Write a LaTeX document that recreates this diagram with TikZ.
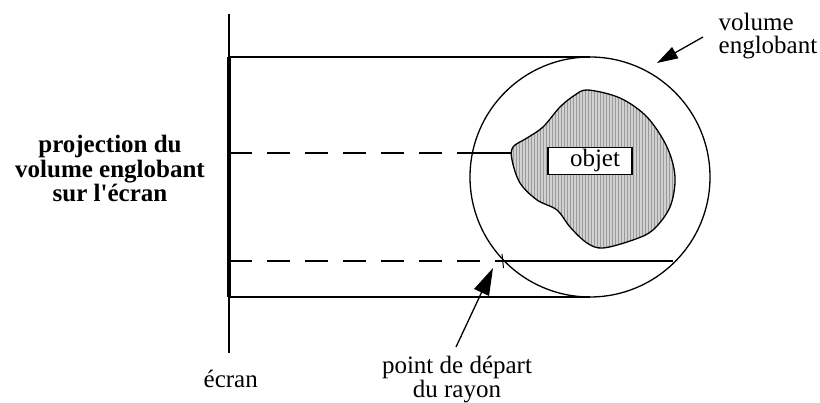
\documentclass[tikz,border=0pt]{standalone}
\usepackage{fontspec}
\setmainfont{Liberation Serif}
\usetikzlibrary{arrows.meta,patterns}
\begin{document}
\begin{tikzpicture}[x=1pt,y=-1pt,line width=1.3pt,
  lab/.style={font=\fontsize{25}{25}\selectfont, inner sep=0pt, anchor=base},
  dashline/.style={dash pattern=on 23pt off 15pt},
  bigarrow/.style={-{Triangle[length=#1,width=0.6*#1]}}]
\useasboundingbox (0,0) rectangle (820,403);
% screen
\coordinate (scrTop) at (229,14);
\coordinate (scrBot) at (229,353);
\coordinate (pTop) at (229,57);
\coordinate (pBot) at (229,297);
\draw (scrTop) -- (scrBot);
\draw[line width=4pt] (pTop) -- (pBot);
% bounding volume
\node[circle, draw, minimum size=240pt, inner sep=0pt, outer sep=0pt] (vol) at (590,177) {};
\draw (pTop) -- (pTop -| vol.north);
\draw (pBot) -- (pBot -| vol.south);
% object
\def\blobpath{plot[smooth cycle, tension=0.55] coordinates {
 (588,90) (620,98) (647,117) (667,147) (675,177) (670,207) (653,230)
 (633,240) (603,248) (587,243) (570,227) (557,210) (537,200) (520,183)
 (512,160) (513,147) (527,138) (543,127) (560,107) (575,95)}}
\fill[black!18] \blobpath;
\fill[pattern=vertical lines, pattern color=black!40] \blobpath;
\draw \blobpath;
\node[draw, fill=white, minimum width=84pt, minimum height=27pt, inner sep=0pt] (objbox) at (590,161) {};
\node[lab] (objtxt) at (595,167) {objet};
% ray lines
\coordinate (d1) at (229,153);
\coordinate (c1) at (472.4,153);
\coordinate (b1) at (512,153);
\draw[dashline] (d1) -- (c1);
\draw (c1) -- (b1);
\coordinate (d2) at (229,261);
\coordinate (s2) at (503,261);
\coordinate (e2) at (673,261);
\draw[dashline] (d2) -- (s2);
\draw (s2) -- (e2);
\coordinate (tk1) at (502,254);
\coordinate (tk2) at (503.5,268);
\draw[line width=1pt] (tk1) -- (tk2);
% arrows
\coordinate (vaT) at (703,37);
\coordinate (vaH) at (657,63);
\draw[bigarrow=21pt] (vaT) -- (vaH);
\coordinate (paT) at (456,347);
\coordinate (paH) at (493,268);
\draw[bigarrow=27pt] (paT) -- (paH);
% labels
\node[lab, anchor=base west, align=left, font=\fontsize{25}{23}\selectfont] (ve) at (718,54) {volume\\englobant};
\node[lab, anchor=base west] (ecr) at (203,388) {écran};
\node[lab, align=center, font=\fontsize{25}{24}\selectfont] (pd) at (457,398) {point de départ\\du rayon};
\node[lab, align=center, font=\fontsize{25}{24.5}\selectfont\bfseries] (pr) at (110,202) {projection du\\volume englobant\\sur l\textquotesingle écran};
\end{tikzpicture}
\end{document}
